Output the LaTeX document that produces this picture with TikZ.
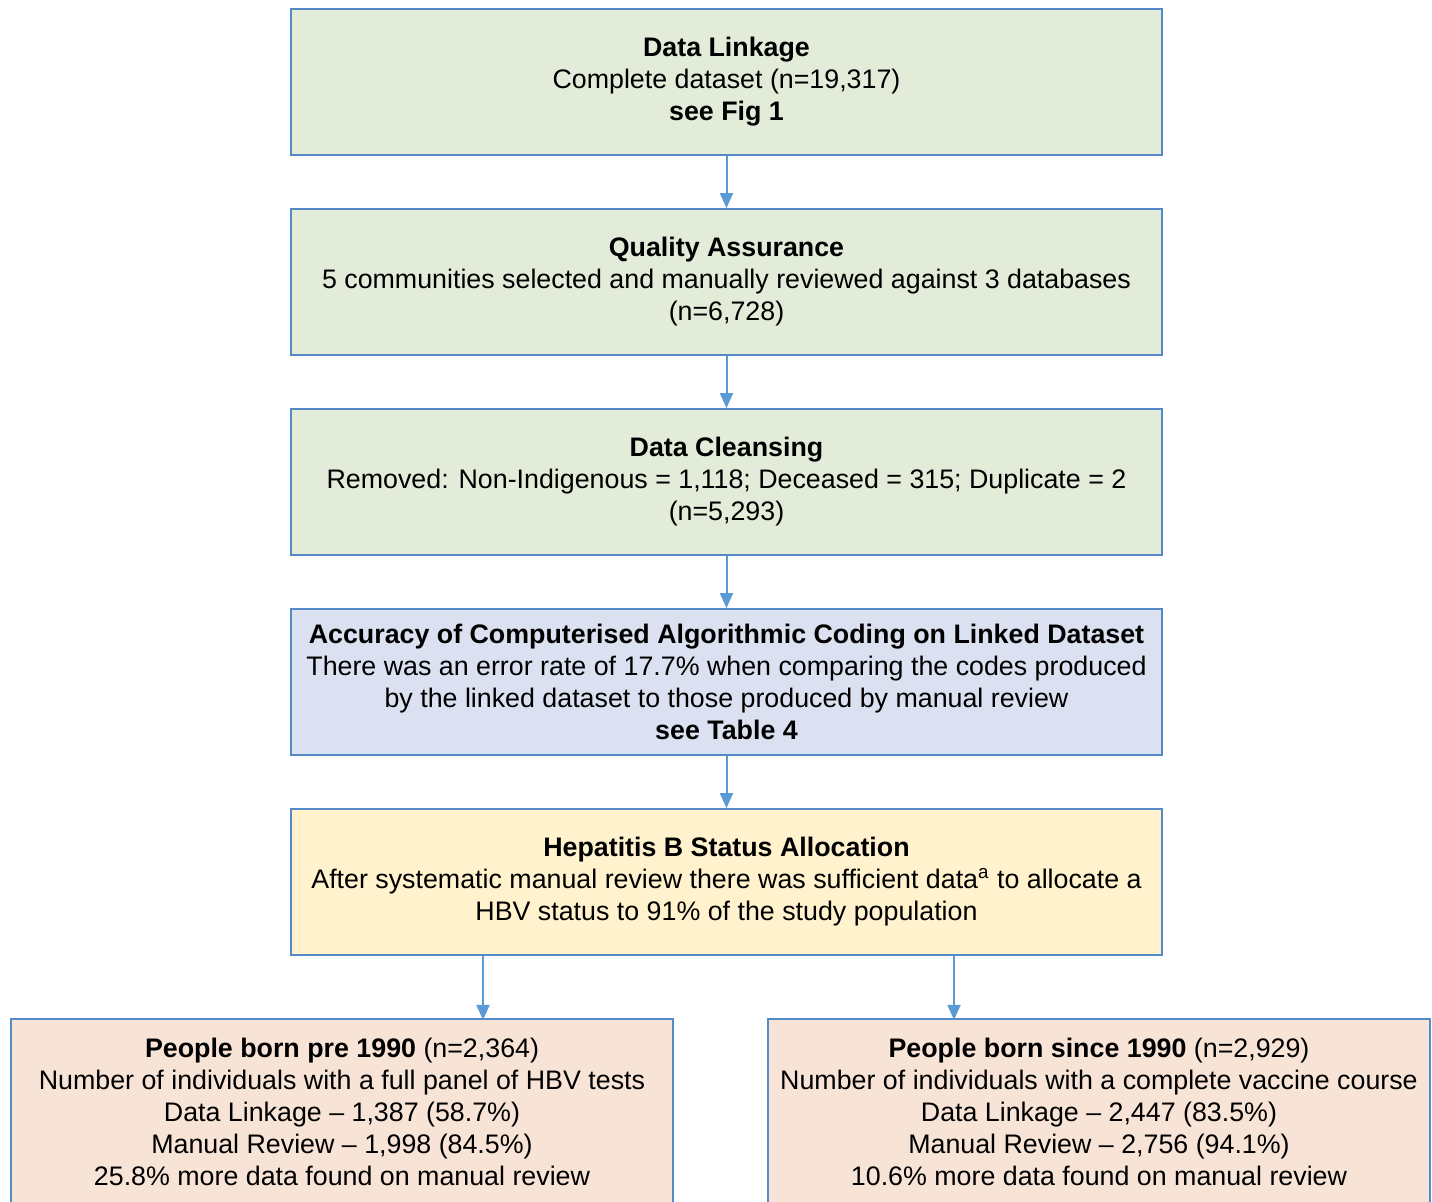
\documentclass[tikz,border=0pt]{standalone}
\usepackage{fontspec}
\setmainfont{Liberation Sans}
\usetikzlibrary{arrows.meta}
\definecolor{bordc}{RGB}{84,138,200}
\definecolor{arrc}{RGB}{91,155,213}
\definecolor{greenf}{RGB}{226,236,217}
\definecolor{bluef}{RGB}{219,225,241}
\definecolor{yellf}{RGB}{255,242,205}
\definecolor{peachf}{RGB}{248,228,214}
\tikzset{
  box/.style={draw=bordc, line width=0.9pt, align=center, inner sep=0pt,
    font=\fontsize{13.4}{16}\selectfont},
  mainbox/.style={box, minimum width=435.5pt, minimum height=73pt},
  lowbox/.style={box, fill=peachf, minimum width=331pt, minimum height=93pt},
  conn/.style={draw=arrc, line width=1pt, -{Triangle[length=7.5pt,width=6.5pt]}}
}
\begin{document}
\begin{tikzpicture}[x=0.5pt,y=-0.5pt]
\useasboundingbox (0,0) rectangle (1432,1202);
\clip (0,0) rectangle (1432,1202);
\node[mainbox, fill=greenf] (link) at (726.5,82) {\textbf{Data Linkage}\\Complete dataset (n=19,317)\\\textbf{see Fig 1}};
\node[mainbox, fill=greenf] (qa) at (726.5,282) {\textbf{Quality Assurance}\\5 communities selected and manually reviewed against 3 databases\\(n=6,728)};
\node[mainbox, fill=greenf] (clean) at (726.5,482) {\textbf{Data Cleansing}\\Removed: Non-Indigenous = 1,118; Deceased = 315; Duplicate = 2\\(n=5,293)};
\node[mainbox, fill=bluef] (acc) at (726.5,682) {\textbf{Accuracy of Computerised Algorithmic Coding on Linked Dataset}\\There was an error rate of 17.7\% when comparing the codes produced\\by the linked dataset to those produced by manual review\\\textbf{see Table 4}};
\node[mainbox, fill=yellf] (hep) at (726.5,882) {\textbf{Hepatitis B Status Allocation}\\After systematic manual review there was sufficient data\textsuperscript{a} to allocate a\\HBV status to 91\% of the study population};
\node[lowbox] (pre) at (342,1112) {\textbf{People born pre 1990} (n=2,364)\\Number of individuals with a full panel of HBV tests\\Data Linkage -- 1,387 (58.7\%)\\Manual Review -- 1,998 (84.5\%)\\25.8\% more data found on manual review};
\node[lowbox] (since) at (1099,1112) {\textbf{People born since 1990} (n=2,929)\\Number of individuals with a complete vaccine course\\Data Linkage -- 2,447 (83.5\%)\\Manual Review -- 2,756 (94.1\%)\\10.6\% more data found on manual review};
\draw[conn] (link) -- (qa);
\draw[conn] (qa) -- (clean);
\draw[conn] (clean) -- (acc);
\draw[conn] (acc) -- (hep);
\draw[conn] (hep.south -| pre.north) ++(141,0) -- ++(0,64);
\draw[conn] (hep.south -| since.north) ++(-145,0) -- ++(0,64);
\end{tikzpicture}
\end{document}
